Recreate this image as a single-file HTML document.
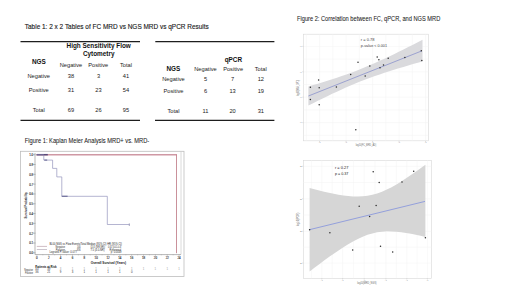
<!DOCTYPE html>
<html><head><meta charset="utf-8"><style>
html,body{margin:0;padding:0;background:#fff;width:520px;height:292px;overflow:hidden}
svg{display:block}
text{font-family:"Liberation Sans",sans-serif}
.t{fill:#1a1a1a;font-size:5.7px}
.b{fill:#111;font-weight:bold;font-size:6.4px}
.c{text-anchor:middle}
.h{fill:#1a1a1a;stroke:#1a1a1a;stroke-width:0.15px}
.h2{fill:#222;stroke:#222;stroke-width:0.06px}
.k{fill:#2a2a2a;font-size:2.8px}
.kt{fill:#2a2a2a;font-size:2.9px;stroke:#2a2a2a;stroke-width:0.1px}
.kb{fill:#111;font-size:3.1px;font-weight:bold}
.s{fill:#1a1a1a;font-size:3.2px}
.sa{fill:#707070;font-size:2.4px}
.sl{fill:#666;font-size:2.6px}
</style></head><body>
<svg width="520" height="292" viewBox="0 0 520 292">
<text class="h" x="24.8" y="29.1" font-size="8.1" textLength="184" lengthAdjust="spacingAndGlyphs">Table 1: 2 x 2 Tables of FC MRD vs NGS MRD vs qPCR Results</text>
<text class="h2" x="24.8" y="142.9" font-size="6.4" textLength="124.4" lengthAdjust="spacingAndGlyphs">Figure 1: Kaplan Meier Analysis MRD+ vs. MRD-</text>
<text class="h2" x="297" y="20.9" font-size="6.4" textLength="143.3" lengthAdjust="spacingAndGlyphs">Figure 2: Correlation between FC, qPCR, and NGS MRD</text>
<g stroke="#1e1e1e" stroke-width="1.35">
<line x1="20.5" y1="41.55" x2="140" y2="41.55"/>
<line x1="20.5" y1="120.35" x2="140" y2="120.35"/>
<line x1="155.3" y1="41.6" x2="274.4" y2="41.6"/>
<line x1="155" y1="120.35" x2="274.4" y2="120.35"/>
</g>
<text class="b c" x="98.7" y="48.1">High Sensitivity Flow</text>
<text class="b c" x="98.7" y="55.5">Cytometry</text>
<text class="b c" x="38.9" y="64.4">NGS</text>
<g class="t c">
<text x="71" y="67.2">Negative</text><text x="98.25" y="67.2">Positive</text><text x="126" y="67.2">Total</text>
<text x="38.75" y="78.2">Negative</text><text x="70.9" y="78.2">38</text><text x="98.5" y="78.2">3</text><text x="126" y="78.2">41</text>
<text x="38.75" y="92.4">Positive</text><text x="70.9" y="92.4">31</text><text x="98.5" y="92.4">23</text><text x="126" y="92.4">54</text>
<text x="38.75" y="112.2">Total</text><text x="70.9" y="112.2">69</text><text x="98.5" y="112.2">26</text><text x="126" y="112.2">95</text>
</g>
<text class="b c" x="233.4" y="62.4">qPCR</text>
<text class="b c" x="173.4" y="70.80000000000001">NGS</text>
<g class="t c">
<text x="205.5" y="71">Negative</text><text x="233.1" y="71">Positive</text><text x="260.8" y="71">Total</text>
<text x="173.5" y="80.9">Negative</text><text x="205.5" y="80.9">5</text><text x="232.6" y="80.9">7</text><text x="260.8" y="80.9">12</text>
<text x="173.5" y="93.4">Positive</text><text x="205.5" y="93.4">6</text><text x="232.6" y="93.4">13</text><text x="260.8" y="93.4">19</text>
<text x="173.5" y="112.7">Total</text><text x="205.5" y="112.7">11</text><text x="232.6" y="112.7">20</text><text x="260.8" y="112.7">31</text>
</g>
<rect x="20.5" y="151.3" width="163.5" height="125.2" fill="none" stroke="#bdbdbd" stroke-width="0.8"/>
<line x1="181" y1="152" x2="181" y2="254.5" stroke="#d0d0d0" stroke-width="0.8"/>
<g stroke="#9a9a9a" stroke-width="0.7">
<line x1="35" y1="153" x2="35" y2="254.6"/><line x1="35" y1="254.6" x2="181" y2="254.6"/>
<line x1="33.2" y1="154.7" x2="35.5" y2="154.7"/>
<line x1="33.2" y1="164.51" x2="35.5" y2="164.51"/>
<line x1="33.2" y1="174.32" x2="35.5" y2="174.32"/>
<line x1="33.2" y1="184.13" x2="35.5" y2="184.13"/>
<line x1="33.2" y1="193.94" x2="35.5" y2="193.94"/>
<line x1="33.2" y1="203.75" x2="35.5" y2="203.75"/>
<line x1="33.2" y1="213.56" x2="35.5" y2="213.56"/>
<line x1="33.2" y1="223.37" x2="35.5" y2="223.37"/>
<line x1="33.2" y1="233.18" x2="35.5" y2="233.18"/>
<line x1="33.2" y1="242.99" x2="35.5" y2="242.99"/>
<line x1="33.2" y1="252.8" x2="35.5" y2="252.8"/>
<line x1="36.9" y1="254.6" x2="36.9" y2="255.6"/>
<line x1="42.82" y1="254.6" x2="42.82" y2="255.2"/>
<line x1="48.75" y1="254.6" x2="48.75" y2="255.6"/>
<line x1="54.67" y1="254.6" x2="54.67" y2="255.2"/>
<line x1="60.6" y1="254.6" x2="60.6" y2="255.6"/>
<line x1="66.53" y1="254.6" x2="66.53" y2="255.2"/>
<line x1="72.45" y1="254.6" x2="72.45" y2="255.6"/>
<line x1="78.38" y1="254.6" x2="78.38" y2="255.2"/>
<line x1="84.3" y1="254.6" x2="84.3" y2="255.6"/>
<line x1="90.22" y1="254.6" x2="90.22" y2="255.2"/>
<line x1="96.15" y1="254.6" x2="96.15" y2="255.6"/>
<line x1="102.07" y1="254.6" x2="102.07" y2="255.2"/>
<line x1="108" y1="254.6" x2="108" y2="255.6"/>
<line x1="113.92" y1="254.6" x2="113.92" y2="255.2"/>
<line x1="119.85" y1="254.6" x2="119.85" y2="255.6"/>
<line x1="125.78" y1="254.6" x2="125.78" y2="255.2"/>
<line x1="131.7" y1="254.6" x2="131.7" y2="255.6"/>
<line x1="137.62" y1="254.6" x2="137.62" y2="255.2"/>
<line x1="143.55" y1="254.6" x2="143.55" y2="255.6"/>
<line x1="149.47" y1="254.6" x2="149.47" y2="255.2"/>
<line x1="155.4" y1="254.6" x2="155.4" y2="255.6"/>
<line x1="161.32" y1="254.6" x2="161.32" y2="255.2"/>
<line x1="167.25" y1="254.6" x2="167.25" y2="255.6"/>
<line x1="173.18" y1="254.6" x2="173.18" y2="255.2"/>
<line x1="179.1" y1="254.6" x2="179.1" y2="255.6"/>
</g>
<g class="kt c">
<text x="31.2" y="156.1">1.0</text>
<text x="31.2" y="165.91">0.9</text>
<text x="31.2" y="175.72">0.8</text>
<text x="31.2" y="185.53">0.7</text>
<text x="31.2" y="195.34">0.6</text>
<text x="31.2" y="205.15">0.5</text>
<text x="31.2" y="214.96">0.4</text>
<text x="31.2" y="224.77">0.3</text>
<text x="31.2" y="234.58">0.2</text>
<text x="31.2" y="244.39">0.1</text>
<text x="31.2" y="254.2">0.0</text>
<text x="36.9" y="258.9">0</text>
<text x="48.75" y="258.9">2</text>
<text x="60.6" y="258.9">4</text>
<text x="72.45" y="258.9">6</text>
<text x="84.3" y="258.9">8</text>
<text x="96.15" y="258.9">10</text>
<text x="108" y="258.9">12</text>
<text x="119.85" y="258.9">14</text>
<text x="131.7" y="258.9">16</text>
<text x="143.55" y="258.9">18</text>
<text x="155.4" y="258.9">20</text>
<text x="167.25" y="258.9">22</text>
<text x="179.1" y="258.9">24</text>
</g>
<text class="kb" transform="translate(26.9,205.3) rotate(-90)" text-anchor="middle" textLength="26.5" lengthAdjust="spacingAndGlyphs">Survival Probability</text>
<text class="kb" x="90.8" y="264.4" textLength="35.2" lengthAdjust="spacingAndGlyphs">Overall Survival (Years)</text>
<text class="kb" x="35.3" y="267.6" textLength="21.4" lengthAdjust="spacingAndGlyphs">Patients at Risk</text>
<text class="k" x="24.3" y="270.6" textLength="8.7" lengthAdjust="spacingAndGlyphs">Negative</text>
<text class="k" x="24.9" y="273.5" textLength="8.1" lengthAdjust="spacingAndGlyphs">Positive</text>
<g class="k c">
<text x="36.9" y="270.4">40</text><text x="36.9" y="273.4">36</text>
<text x="48.75" y="270.4">39</text><text x="48.75" y="273.4">21</text>
<text x="60.6" y="270.4" style="fill:#999">3</text><text x="60.6" y="273.4">9</text>
<text x="72.45" y="270.4" style="fill:#999">1</text><text x="72.45" y="273.4">3</text>
<text x="84.3" y="270.4" style="fill:#999">1</text><text x="84.3" y="273.4">1</text>
<text x="96.15" y="270.4" style="fill:#999">1</text><text x="96.15" y="273.4">1</text>
<text x="108" y="270.4" style="fill:#999">1</text><text x="108" y="273.4">1</text>
<text x="119.85" y="270.4" style="fill:#999">1</text><text x="119.85" y="273.4">1</text>
<text x="131.7" y="270.4" style="fill:#999">1</text><text x="131.7" y="273.4">0</text>
<text x="143.55" y="270.4" style="fill:#999">1</text><text x="143.55" y="273.4"></text>
<text x="155.4" y="270.4" style="fill:#999">1</text><text x="155.4" y="273.4"></text>
<text x="167.25" y="270.4" style="fill:#999">1</text><text x="167.25" y="273.4"></text>
<text x="179.1" y="270.4" style="fill:#999">1</text><text x="179.1" y="273.4"></text>
</g>
<line x1="36.8" y1="246.4" x2="47" y2="246.4" stroke="#b0909c" stroke-width="0.6"/>
<line x1="36.8" y1="249.5" x2="47" y2="249.5" stroke="#aaa0ae" stroke-width="0.6"/>
<text class="k" style="fill:#222" x="49.4" y="244.6" textLength="72.5" lengthAdjust="spacingAndGlyphs">BL00 NGS vs Flow Events/Total Median (95% CI) HR (95% CI)</text>
<g class="k">
<text x="55.6" y="247.6" textLength="9.4" lengthAdjust="spacingAndGlyphs">Negative</text>
<text x="76.9" y="247.6" textLength="3.7" lengthAdjust="spacingAndGlyphs">1/40</text>
<text x="90.4" y="247.6" textLength="14.6" lengthAdjust="spacingAndGlyphs">(13.3 (NR-NR))</text>
<text x="108" y="247.6" textLength="13.2" lengthAdjust="spacingAndGlyphs">0.05 (0.01-0.4)</text>
<text x="55.8" y="250.6" textLength="9.2" lengthAdjust="spacingAndGlyphs">Positive</text>
<text x="76.9" y="250.6" textLength="3.7" lengthAdjust="spacingAndGlyphs">8/36</text>
<text x="90.4" y="250.6" textLength="14.2" lengthAdjust="spacingAndGlyphs">7.5 (4.0-NR)</text>
<text x="109.6" y="250.6" textLength="11.6" lengthAdjust="spacingAndGlyphs">Reference</text>
<text x="49.4" y="253.2" textLength="27.5" lengthAdjust="spacingAndGlyphs">Logrank P-value: 0.077</text>
<text x="110.8" y="253.2" textLength="10.7" lengthAdjust="spacingAndGlyphs">p: 0.0049</text>
</g>
<line x1="36" y1="154.8" x2="176.9" y2="154.8" stroke="#cf98a4" stroke-width="1.6"/>
<line x1="176.5" y1="154.5" x2="176.5" y2="253.2" stroke="#c48490" stroke-width="0.9"/>
<line x1="37" y1="154.7" x2="47.8" y2="154.7" stroke="#5a4a78" stroke-width="1.5"/>
<line x1="61.8" y1="196.3" x2="67.6" y2="196.3" stroke="#4a4a78" stroke-width="1.1"/>
<line x1="44.3" y1="160.1" x2="47.2" y2="160.1" stroke="#4a4a78" stroke-width="1"/>
<line x1="129.3" y1="223.4" x2="129.3" y2="226" stroke="#6a6a90" stroke-width="0.6"/>
<polyline points="36,154.8 43.8,154.8 43.8,160.1 52.6,160.1 52.6,168.4 56.8,168.4 56.8,176.9 61.8,176.9 61.8,196.3 107.3,196.3 107.3,224.5 129.5,224.5" fill="none" stroke="#8c8cb8" stroke-width="0.65"/>
<rect x="303.5" y="34.2" width="124.9" height="106.6" fill="#fff" stroke="#d8d8d8" stroke-width="0.6"/>
<g stroke="#f2f2f2" stroke-width="0.5">
<line x1="319.6" y1="34.2" x2="319.6" y2="140.8"/>
<line x1="332.85" y1="34.2" x2="332.85" y2="140.8"/>
<line x1="346.1" y1="34.2" x2="346.1" y2="140.8"/>
<line x1="359.35" y1="34.2" x2="359.35" y2="140.8"/>
<line x1="372.6" y1="34.2" x2="372.6" y2="140.8"/>
<line x1="385.85" y1="34.2" x2="385.85" y2="140.8"/>
<line x1="399.1" y1="34.2" x2="399.1" y2="140.8"/>
<line x1="412.35" y1="34.2" x2="412.35" y2="140.8"/>
<line x1="425.6" y1="34.2" x2="425.6" y2="140.8"/>
<line x1="306.35" y1="34.2" x2="306.35" y2="140.8"/>
<line x1="303.5" y1="46.4" x2="428.4" y2="46.4"/>
<line x1="303.5" y1="59.1" x2="428.4" y2="59.1"/>
<line x1="303.5" y1="71.8" x2="428.4" y2="71.8"/>
<line x1="303.5" y1="84.5" x2="428.4" y2="84.5"/>
<line x1="303.5" y1="97.2" x2="428.4" y2="97.2"/>
<line x1="303.5" y1="109.9" x2="428.4" y2="109.9"/>
<line x1="303.5" y1="122.6" x2="428.4" y2="122.6"/>
<line x1="303.5" y1="135.3" x2="428.4" y2="135.3"/>
</g>
<g stroke="#bdbdbd" stroke-width="0.5">
<line x1="319.6" y1="140.8" x2="319.6" y2="142.0"/>
<line x1="346.1" y1="140.8" x2="346.1" y2="142.0"/>
<line x1="372.6" y1="140.8" x2="372.6" y2="142.0"/>
<line x1="399.1" y1="140.8" x2="399.1" y2="142.0"/>
<line x1="425.6" y1="140.8" x2="425.6" y2="142.0"/>
<line x1="302.3" y1="46.4" x2="303.5" y2="46.4"/>
<line x1="302.3" y1="71.8" x2="303.5" y2="71.8"/>
<line x1="302.3" y1="97.2" x2="303.5" y2="97.2"/>
<line x1="302.3" y1="122.6" x2="303.5" y2="122.6"/>
</g>
<path d="M308.4,86.45 L313.15,85.06 L317.91,83.65 L322.66,82.21 L327.42,80.74 L332.17,79.23 L336.92,77.68 L341.68,76.08 L346.43,74.42 L351.19,72.69 L355.94,70.9 L360.7,69.04 L365.45,67.1 L370.2,65.09 L374.96,63.01 L379.71,60.87 L384.47,58.68 L389.22,56.44 L393.97,54.15 L398.73,51.83 L403.48,49.48 L408.24,47.1 L412.99,44.7 L417.75,42.28 L422.5,39.85 L422.5,61.4 L417.75,62.75 L412.99,64.11 L408.24,65.49 L403.48,66.89 L398.73,68.32 L393.97,69.78 L389.22,71.28 L384.47,72.82 L379.71,74.4 L374.96,76.05 L370.2,77.75 L365.45,79.52 L360.7,81.37 L355.94,83.28 L351.19,85.27 L346.43,87.33 L341.68,89.45 L336.92,91.63 L332.17,93.86 L327.42,96.13 L322.66,98.44 L317.91,100.79 L313.15,103.16 L308.4,105.55 Z" fill="#dadadd"/>
<line x1="308.4" y1="96" x2="421.8" y2="50.9" stroke="#9ca2d0" stroke-width="1"/>
<g fill="#2a2a2a"><circle cx="310.4" cy="87.2" r="0.75"/><circle cx="310.4" cy="99.5" r="0.75"/><circle cx="318.6" cy="80.1" r="0.75"/><circle cx="319.2" cy="87.8" r="0.75"/><circle cx="319.2" cy="104.7" r="0.75"/><circle cx="336.4" cy="87" r="0.75"/><circle cx="350.7" cy="74.6" r="0.75"/><circle cx="358" cy="62.3" r="0.75"/><circle cx="365.2" cy="76" r="0.75"/><circle cx="369.8" cy="65.9" r="0.75"/><circle cx="377.2" cy="57.1" r="0.75"/><circle cx="378.9" cy="59.8" r="0.75"/><circle cx="380" cy="67.8" r="0.75"/><circle cx="383.5" cy="65" r="0.75"/><circle cx="388.2" cy="58.2" r="0.75"/><circle cx="404.9" cy="57.6" r="0.75"/><circle cx="421.3" cy="50.8" r="0.75"/><circle cx="421.8" cy="60.4" r="0.75"/><circle cx="355.8" cy="129.7" r="0.75"/></g>
<text class="s" style="fill:#444" x="360.8" y="40.5" textLength="13.7" lengthAdjust="spacingAndGlyphs">r = 0.78</text>
<text class="s" style="fill:#444" x="360.8" y="46.6" textLength="26.3" lengthAdjust="spacingAndGlyphs">p-value  &lt; 0.001</text>
<g class="sa c">
<text x="300.6" y="47.2">-4</text>
<text x="300.6" y="72.6">-4</text>
<text x="300.6" y="98">-4</text>
<text x="300.6" y="123.4">-4</text>
<text x="319.6" y="143.4">-4</text>
<text x="346.1" y="143.4">-4</text>
<text x="372.6" y="143.4">-4</text>
<text x="399.1" y="143.4">-4</text>
<text x="425.6" y="143.4">-4</text>
</g>
<text class="sl" transform="translate(298.7,87.9) rotate(-90)" text-anchor="middle" textLength="16.2" lengthAdjust="spacingAndGlyphs">log10(NGS_MRD)</text>
<text class="sl" x="355.8" y="145.6" textLength="20.4" lengthAdjust="spacingAndGlyphs">log10(FC_MRD_AD)</text>
<rect x="303.4" y="160.3" width="128.2" height="118" fill="#fff" stroke="#d8d8d8" stroke-width="0.6"/>
<g stroke="#f2f2f2" stroke-width="0.5">
<line x1="321.8" y1="160.3" x2="321.8" y2="278.3"/>
<line x1="332.2" y1="160.3" x2="332.2" y2="278.3"/>
<line x1="342.6" y1="160.3" x2="342.6" y2="278.3"/>
<line x1="353.4" y1="160.3" x2="353.4" y2="278.3"/>
<line x1="364.2" y1="160.3" x2="364.2" y2="278.3"/>
<line x1="375.05" y1="160.3" x2="375.05" y2="278.3"/>
<line x1="385.9" y1="160.3" x2="385.9" y2="278.3"/>
<line x1="396.35" y1="160.3" x2="396.35" y2="278.3"/>
<line x1="406.8" y1="160.3" x2="406.8" y2="278.3"/>
<line x1="417.1" y1="160.3" x2="417.1" y2="278.3"/>
<line x1="427.4" y1="160.3" x2="427.4" y2="278.3"/>
<line x1="311.4" y1="160.3" x2="311.4" y2="278.3"/>
<line x1="303.4" y1="166.3" x2="431.6" y2="166.3"/>
<line x1="303.4" y1="182.55" x2="431.6" y2="182.55"/>
<line x1="303.4" y1="198.8" x2="431.6" y2="198.8"/>
<line x1="303.4" y1="215.05" x2="431.6" y2="215.05"/>
<line x1="303.4" y1="231.3" x2="431.6" y2="231.3"/>
<line x1="303.4" y1="247.2" x2="431.6" y2="247.2"/>
<line x1="303.4" y1="263.1" x2="431.6" y2="263.1"/>
</g>
<g stroke="#bdbdbd" stroke-width="0.5">
<line x1="321.8" y1="278.3" x2="321.8" y2="279.5"/>
<line x1="342.6" y1="278.3" x2="342.6" y2="279.5"/>
<line x1="364.2" y1="278.3" x2="364.2" y2="279.5"/>
<line x1="385.9" y1="278.3" x2="385.9" y2="279.5"/>
<line x1="406.8" y1="278.3" x2="406.8" y2="279.5"/>
<line x1="427.4" y1="278.3" x2="427.4" y2="279.5"/>
<line x1="302.2" y1="166.3" x2="303.4" y2="166.3"/>
<line x1="302.2" y1="198.8" x2="303.4" y2="198.8"/>
<line x1="302.2" y1="231.3" x2="303.4" y2="231.3"/>
<line x1="302.2" y1="263.1" x2="303.4" y2="263.1"/>
</g>
<path d="M309.6,188.1 L314.43,189.37 L319.25,190.58 L324.08,191.74 L328.9,192.82 L333.73,193.82 L338.55,194.7 L343.38,195.45 L348.2,196.03 L353.02,196.4 L357.85,196.5 L362.68,196.3 L367.5,195.75 L372.32,194.8 L377.15,193.45 L381.98,191.69 L386.8,189.57 L391.62,187.13 L396.45,184.41 L401.27,181.47 L406.1,178.35 L410.93,175.09 L415.75,171.7 L420.57,168.23 L425.4,164.67 L425.4,236.94 L420.57,235.8 L415.75,234.74 L410.93,233.77 L406.1,232.92 L401.27,232.22 L396.45,231.7 L391.62,231.4 L386.8,231.37 L381.98,231.66 L377.15,232.32 L372.32,233.38 L367.5,234.85 L362.68,236.72 L357.85,238.93 L353.02,241.46 L348.2,244.24 L343.38,247.23 L338.55,250.4 L333.73,253.7 L328.9,257.11 L324.08,260.61 L319.25,264.18 L314.43,267.82 L309.6,271.5 Z" fill="#d6d6d6"/>
<line x1="309.4" y1="229.7" x2="425" y2="201.4" stroke="#94a0dc" stroke-width="1"/>
<g fill="#2a2a2a"><circle cx="373.2" cy="171.7" r="0.75"/><circle cx="413.7" cy="171.2" r="0.75"/><circle cx="379.2" cy="182.6" r="0.75"/><circle cx="402" cy="182.1" r="0.75"/><circle cx="359.2" cy="206.2" r="0.75"/><circle cx="376.1" cy="205.4" r="0.75"/><circle cx="369.6" cy="216.6" r="0.75"/><circle cx="309.6" cy="229.8" r="0.75"/><circle cx="329.9" cy="232.7" r="0.75"/><circle cx="352.7" cy="250" r="0.75"/><circle cx="380.5" cy="246.2" r="0.75"/><circle cx="392.7" cy="251.9" r="0.75"/><circle cx="425.4" cy="237.8" r="0.75"/></g>
<text class="s" x="334.9" y="169" textLength="13.5" lengthAdjust="spacingAndGlyphs">r = 0.27</text>
<text class="s" x="334.9" y="175" textLength="13.5" lengthAdjust="spacingAndGlyphs">p = 0.37</text>
<g class="sa c">
<text x="300.6" y="167.1">-2</text>
<text x="300.6" y="199.6">-2</text>
<text x="300.6" y="232.1">-2</text>
<text x="300.6" y="263.9">-2</text>
<text x="321.8" y="281.3">-4</text>
<text x="342.6" y="281.3">-4</text>
<text x="364.2" y="281.3">-4</text>
<text x="385.9" y="281.3">-4</text>
<text x="406.8" y="281.3">-4</text>
<text x="427.4" y="281.3">-4</text>
</g>
<text class="sl" transform="translate(298.6,219.4) rotate(-90)" text-anchor="middle" textLength="13.3" lengthAdjust="spacingAndGlyphs">log10(PCR)</text>
<text class="sl" x="357.3" y="284" textLength="19.2" lengthAdjust="spacingAndGlyphs">log10(MRD_NGS)</text>
</svg>
</body></html>
